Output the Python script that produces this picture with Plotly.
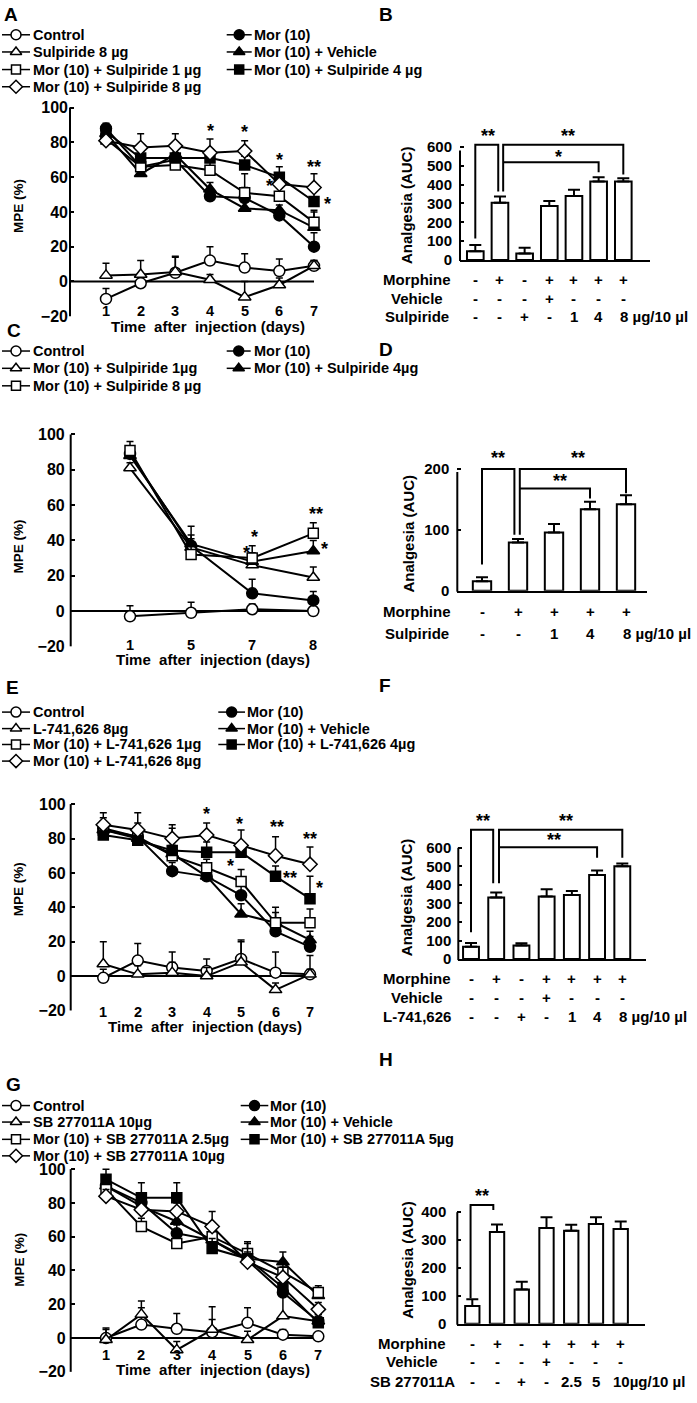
import plotly.graph_objects as go

W, H = 697, 1403
FAM = "Liberation Sans, Arial, Helvetica, sans-serif"

# ======================= DATA =======================
# ---- Panel A (Sulpiride, days 1-7) ----
A_days = ["1", "2", "3", "4", "5", "6", "7"]
A_control = [-10, -1, 5, 12, 8, 6, 9]
A_control_err = [6, 5, 9, 8, 8, 7, 3]
A_sulp8 = [3.5, 4, 5.5, 1, -9, -2, 9]
A_sulp8_err = [7, 8, 9, 3, 9, 4, 3]
A_mor = [88, 66, 70, 49, 48, 38, 20]
A_mor_err = [3, 4, 4, 4, 6, 3, 8]
A_veh = [85, 62, 73, 53, 42, 41, 31]
A_veh_err = [3, 4, 5, 4, 5, 3, 10]
A_s1 = [82, 66, 67, 64, 51, 49, 34]
A_s1_err = [3, 5, 4, 9, 11, 5, 6]
A_s4 = [86, 71, 71, 71, 67, 60, 46]
A_s4_err = [3, 4, 6, 5, 5, 6, 6]
A_s8 = [81, 77, 78, 74, 75, 56, 54]
A_s8_err = [3, 8, 7, 8, 6, 5, 8]
A_names = ["Control", "Sulpiride 8 µg", "Mor (10) + Sulpiride 1 µg", "Mor (10) + Sulpiride 8 µg",
           "Mor (10)", "Mor (10) + Vehicle", "Mor (10) + Sulpiride 4 µg"]
A_stars = [(3, 89, "*"), (4, 88, "*"), (5, 72, "*"), (4.73, 57.5, "*"), (6, 68, "**"), (6.4, 46.6, "*")]

# ---- Panel B (AUC, sulpiride) ----
B_vals = [47, 304, 35, 286, 339, 416, 416]
B_errs = [32, 33, 30, 26, 33, 23, 17]
B_row_names = ["Morphine", "Vehicle", "Sulpiride"]
B_rows = [["-", "+", "-", "+", "+", "+", "+"],
          ["-", "-", "-", "+", "-", "-", "-"],
          ["-", "-", "+", "-", "1", "4", "8 µg/10 µl"]]
B_brackets = [(0, 114, 0.93, 363, 610), (1.13, 363, 6, 453, 610), (1.13, 518, 5, 465, 518)]
B_stars = [(0.53, 676, "**"), (3.77, 676, "**"), (3.39, 567, "*")]

# ---- Panel C (Sulpiride, days 1,5,7,8) ----
C_days = ["1", "5", "7", "8"]
C_control = [-3, -1, 1, 0]
C_control_err = [6, 6, 3, 0]
C_s1 = [81, 36, 26, 19]
C_s1_err = [3, 5, 4, 6]
C_s8 = [91, 32, 30, 44]
C_s8_err = [5, 6, 7, 6]
C_mor = [89, 37, 10, 6]
C_mor_err = [4, 6, 8, 5]
C_s4 = [88, 38, 28, 34]
C_s4_err = [4, 10, 5, 6]
C_names = ["Control", "Mor (10) + Sulpiride 1µg", "Mor (10) + Sulpiride 8 µg",
           "Mor (10)", "Mor (10) + Sulpiride 4µg"]
C_stars = [(2.03, 44, "*"), (1.91, 35, "*"), (3.04, 57, "**"), (3.18, 37.5, "*")]

# ---- Panel D (AUC, sulpiride) ----
D_vals = [15.5, 79, 95.5, 134, 142]
D_errs = [6.5, 6, 14, 12, 15]
D_row_names = ["Morphine", "Sulpiride"]
D_rows = [["-", "+", "+", "+", "+"],
          ["-", "-", "1", "4", "8 µg/10 µl"]]
D_brackets = [(0, 43, 0.9, 92, 200), (1.05, 92, 4, 160, 200), (1.05, 168, 3, 151.5, 168)]
D_stars = [(0.45, 225, "**"), (2.67, 225, "**"), (2.17, 187, "**")]

# ---- Panel E (L-741,626) ----
E_days = ["1", "2", "3", "4", "5", "6", "7"]
E_control = [-1, 9, 5, 3, 10, 2, 1]
E_control_err = [5, 10, 9, 7, 11, 12, 11]
E_l8 = [7, 1, 2, 0, 8, -8, 1]
E_l8_err = [13, 5, 6, 5, 12, 4, 3]
E_mor = [86, 81, 61, 58, 47, 26, 17]
E_mor_err = [4, 5, 5, 4, 6, 5, 6]
E_veh = [85, 80, 71, 58, 36, 31, 21]
E_veh_err = [4, 5, 5, 4, 6, 6, 5]
E_m1 = [85, 81, 70, 63, 55, 31, 31]
E_m1_err = [4, 5, 6, 5, 7, 9, 8]
E_m4 = [82, 79, 73, 72, 72, 58, 45]
E_m4_err = [13, 10, 15, 6, 5, 6, 13]
E_m8 = [88, 85, 80, 82, 76, 70, 65]
E_m8_err = [4, 10, 6, 7, 9, 11, 10]
E_names = ["Control", "L-741,626 8µg", "Mor (10) + L-741,626 1µg", "Mor (10) + L-741,626 8µg",
           "Mor (10)", "Mor (10) + Vehicle", "Mor (10) + L-741,626 4µg"]
E_stars = [(3.0, 96.7, "*"), (3.94, 91, "*"), (5.05, 89, "**"), (6.0, 81.9, "**"),
           (3.68, 66.3, "*"), (5.42, 59.6, "**"), (6.29, 53.4, "*")]

# ---- Panel F (AUC, L-741,626) ----
F_vals = [67, 332, 73, 337, 346, 453, 501]
F_errs = [20, 27, 13, 40, 21, 25, 15]
F_row_names = ["Morphine", "Vehicle", "L-741,626"]
F_rows = [["-", "+", "-", "+", "+", "+", "+"],
          ["-", "-", "-", "+", "-", "-", "-"],
          ["-", "-", "+", "-", "1", "4", "8 µg/10 µl"]]
F_brackets = [(0, 145, 0.88, 409, 698), (1.11, 409, 6, 546, 698), (1.11, 603, 5, 546, 603)]
F_stars = [(0.49, 766, "**"), (3.76, 766, "**"), (3.31, 662, "**")]

# ---- Panel G (SB 277011A) ----
G_days = ["1", "2", "3", "4", "5", "6", "7"]
G_control = [0, 8, 5.5, 3.5, 9, 2, 1]
G_control_err = [6, 10, 9, 15, 9, 3, 2]
G_sb10 = [-1, 14, -7, 5, -1, 13, 10]
G_sb10_err = [6, 8, 5, 6, 5, 22, 4]
G_mor = [90, 80, 62, 58, 46, 27, 10]
G_mor_err = [4, 5, 5, 4, 5, 6, 4]
G_veh = [90, 78, 69, 58, 47, 45, 25]
G_veh_err = [4, 5, 5, 4, 5, 6, 4]
G_m25 = [88, 66, 56, 60, 50, 39, 27]
G_m25_err = [4, 5, 5, 5, 6, 6, 4]
G_m5 = [94, 83, 83, 53, 47, 30, 9]
G_m5_err = [6, 9, 9, 6, 10, 6, 3]
G_m10 = [84, 76, 75, 66, 45, 36, 17]
G_m10_err = [4, 5, 5, 9, 6, 6, 4]
G_names = ["Control", "SB 277011A 10µg", "Mor (10) + SB 277011A 2.5µg", "Mor (10) + SB 277011A 10µg",
           "Mor (10)", "Mor (10) + Vehicle", "Mor (10) + SB 277011A 5µg"]
G_stars = []

# ---- Panel H (AUC, SB 277011A) ----
H_vals = [64, 329, 123, 343, 333, 358, 340]
H_errs = [24, 27, 28, 39, 22, 24, 27]
H_row_names = ["Morphine", "Vehicle", "SB 277011A"]
H_rows = [["-", "+", "-", "+", "+", "+", "+"],
          ["-", "-", "-", "+", "-", "-", "-"],
          ["-", "-", "+", "-", "2.5", "5", "10µg/10 µl"]]
H_brackets = [(-0.07, 91, 0.85, 408, 426)]
H_stars = [(0.38, 471, "**")]

MPE_TICKS = [-20, 0, 20, 40, 60, 80, 100]
X_TITLE = "Time\u00a0\u00a0after\u00a0\u00a0injection (days)"

# ======================= STYLE / GEOMETRY =======================
def F(size):
    return dict(family=FAM, size=size, color="black", weight="bold")

SYM = {
    "oc": ("circle", "white", 11),
    "fc": ("circle", "black", 11),
    "ot": ("triangle-up", "white", 11),
    "ft": ("triangle-up", "black", 11),
    "os": ("square", "white", 10),
    "fs": ("square", "black", 10),
    "od": ("diamond", "white", 11),
}

def lin(p0, v0, p1, v1):
    s = (p1 - p0) / (v1 - v0)
    return (lambda v: p0 + (v - v0) * s), (lambda p: v0 + (p - p0) / s)

def px(x):
    return x / W

def py(y):
    return 1 - y / H

fig = go.Figure()
layout = dict(width=W, height=H, margin=dict(l=0, r=0, t=0, b=0),
              paper_bgcolor="white", plot_bgcolor="rgba(0,0,0,0)",
              font=F(14), showlegend=False)
shapes, annots = [], []

# overlay axis in pixel space for legend keys
layout["xaxis9"] = dict(domain=[0, 1], range=[0, W], visible=False, anchor="y9", fixedrange=True)
layout["yaxis9"] = dict(domain=[0, 1], range=[H, 0], visible=False, anchor="x9", fixedrange=True)

def axid(n):
    return ("x" if n == 1 else f"x{n}"), ("y" if n == 1 else f"y{n}")

def note(text, x, y, xref="paper", yref="paper", size=15, xa="center", ya="middle", **kw):
    d = dict(text=text, x=x, y=y, xref=xref, yref=yref, showarrow=False, font=F(size),
             xanchor=xa, yanchor=ya, borderpad=0)
    d.update(kw)
    annots.append(d)

def add_star(xa, ya, x, y, t, size=18):
    note(t, x, y, xref=xa, yref=ya, size=size, yshift=-4)

def line_panel(n, g, days, series, stars):
    xa, ya = axid(n)
    npts = len(days)
    _, vx = lin(g["c0"], 0, g["c1"], npts - 1)
    pyy, _ = lin(g["ylo"], -20, g["yhi"], 100)
    yext = 108
    layout[f"xaxis{n}"] = dict(domain=[px(g["xl"]), px(g["xr"])], range=[vx(g["xl"]), vx(g["xr"])],
                               visible=False, anchor=ya, fixedrange=True)
    layout[f"yaxis{n}"] = dict(domain=[py(g["ylo"]), py(pyy(yext))], range=[-20, yext], anchor=xa,
                               showline=False, showgrid=False, zeroline=False,
                               ticks="inside", ticklen=4, tickwidth=2, tickcolor="black",
                               tickvals=MPE_TICKS, tickfont=F(16),
                               ticklabelstandoff=g["stand"], fixedrange=True)
    shapes.append(dict(type="line", xref="paper", yref="paper", x0=px(g["xl"]), x1=px(g["xl"]),
                       y0=py(pyy(-20)), y1=py(pyy(100)), line=dict(color="black", width=2)))
    shapes.append(dict(type="line", xref=xa, yref=ya, x0=vx(g["xl"]), x1=npts - 1, y0=0, y1=0,
                       line=dict(color="black", width=2), layer="below"))
    xs = list(range(npts))
    for name, sty, vals, errs, col, row in series:
        sym, fill, size = SYM[sty]
        fig.add_trace(go.Scatter(
            x=xs, y=vals, xaxis=xa, yaxis=ya, mode="lines+markers",
            line=dict(color="black", width=2),
            marker=dict(symbol=sym, color=fill, size=size, line=dict(color="black", width=1.5)),
            error_y=dict(type="data", symmetric=False, array=errs, arrayminus=[0] * npts,
                         color="black", thickness=1.5, width=3.5),
            cliponaxis=False, hoverinfo="skip"))
        # legend key
        kx0, kx1, tx = g["leg_cols"][col]
        ky = g["leg_rows"][row]
        fig.add_trace(go.Scatter(x=[kx0, kx1], y=[ky, ky], xaxis="x9", yaxis="y9", mode="lines",
                                 line=dict(color="black", width=1.5), hoverinfo="skip"))
        fig.add_trace(go.Scatter(x=[(kx0 + kx1) / 2], y=[ky], xaxis="x9", yaxis="y9", mode="markers",
                                 marker=dict(symbol=sym, color=fill, size=size - 1,
                                             line=dict(color="black", width=1.5)),
                                 cliponaxis=False, hoverinfo="skip"))
        note(name, px(tx), py(ky), size=14.5, xa="left")
    for i, d in enumerate(days):
        note(d, i, py(g["tick_py"]), xref=xa, size=14.5)
    note(X_TITLE, px(g["title_px"]), py(g["title_py"]), size=15)
    note("MPE (%)", px(g["ylab"][0]), py(g["ylab"][1]), size=13.5, textangle=-90)
    for x, y, t in stars:
        add_star(xa, ya, x, y, t)

def bar_panel(n, g, vals, errs, row_names, rows, brackets, stars):
    xa, ya = axid(n)
    nb = len(vals)
    _, vx = lin(g["c0"], 0, g["c1"], nb - 1)
    pyy, _ = lin(g["y0"], 0, g["y1"], g["ymax"])
    yext = g["yext"]
    layout[f"xaxis{n}"] = dict(domain=[px(g["xl"]), px(g["xr"])], range=[vx(g["xl"]), vx(g["xr"])],
                               showline=True, linewidth=2, linecolor="black", ticks="",
                               showticklabels=False, showgrid=False, zeroline=False,
                               anchor=ya, fixedrange=True)
    layout[f"yaxis{n}"] = dict(domain=[py(g["y0"]), py(pyy(yext))], range=[0, yext], anchor=xa,
                               showline=False, showgrid=False, zeroline=False,
                               ticks="inside", ticklen=4, tickwidth=2, tickcolor="black",
                               tickvals=g["ticks"], tickfont=F(15),
                               ticklabelstandoff=g["stand"], fixedrange=True)
    shapes.append(dict(type="line", xref="paper", yref="paper", x0=px(g["xl"]), x1=px(g["xl"]),
                       y0=py(g["y0"] + 1), y1=py(pyy(g["axtop"])), line=dict(color="black", width=2)))
    fig.add_trace(go.Bar(x=list(range(nb)), y=vals, xaxis=xa, yaxis=ya, width=g["bw"],
                         marker=dict(color="white", line=dict(color="black", width=2)),
                         error_y=dict(type="data", symmetric=False, array=errs, arrayminus=[0] * nb,
                                      color="black", thickness=2, width=6),
                         hoverinfo="skip"))
    for xa_, ya_, xb_, yb_, yt in brackets:
        fig.add_trace(go.Scatter(x=[xa_, xa_, xb_, xb_], y=[ya_, yt, yt, yb_], xaxis=xa, yaxis=ya,
                                 mode="lines", line=dict(color="black", width=2), hoverinfo="skip"))
    for x, y, t in stars:
        add_star(xa, ya, x, y, t)
    note("Analgesia (AUC)", px(g["ylab"][0]), py(g["ylab"][1]), size=15, textangle=-90)
    for name, entries, ry in zip(row_names, rows, g["rows_py"]):
        note(name, px(g["row_cx"]), py(ry), size=15)
        for i, e in enumerate(entries):
            if "µg" in e:
                lead = e.split("µ")[0].strip()
                note(e, i, py(ry), xref=xa, size=15, xa="left",
                     xshift=-len(lead) * 0.556 * 15 / 2)
            else:
                note(e, i, py(ry), xref=xa, size=15)

# ---------------- line panels ----------------
COL1 = (2, 30, 32)
line_panel(1, dict(xl=70, xr=330, c0=106, c1=314, ylo=318.3, yhi=108.3, stand=1,
                   tick_py=313.3, title_py=328.3, title_px=208, ylab=(18.3, 207),
                   leg_cols=[COL1, (226.7, 251.7, 253.3)], leg_rows=[35, 52.3, 70, 87.3]),
           A_days,
           [(A_names[0], "oc", A_control, A_control_err, 0, 0),
            (A_names[1], "ot", A_sulp8, A_sulp8_err, 0, 1),
            (A_names[4], "fc", A_mor, A_mor_err, 1, 0),
            (A_names[5], "ft", A_veh, A_veh_err, 1, 1),
            (A_names[2], "os", A_s1, A_s1_err, 0, 2),
            (A_names[6], "fs", A_s4, A_s4_err, 1, 2),
            (A_names[3], "od", A_s8, A_s8_err, 0, 3)],
           A_stars)

line_panel(3, dict(xl=70.7, xr=330, c0=130, c1=313.3, ylo=650.5, yhi=437.3, stand=5,
                   tick_py=649.3, title_py=663.3, title_px=213, ylab=(18, 550),
                   leg_cols=[COL1, (226.7, 250.7, 253)], leg_rows=[353.3, 370.7, 388.3]),
           C_days,
           [(C_names[0], "oc", C_control, C_control_err, 0, 0),
            (C_names[3], "fc", C_mor, C_mor_err, 1, 0),
            (C_names[1], "ot", C_s1, C_s1_err, 0, 1),
            (C_names[4], "ft", C_s4, C_s4_err, 1, 1),
            (C_names[2], "os", C_s8, C_s8_err, 0, 2)],
           C_stars)

line_panel(5, dict(xl=70.7, xr=330, c0=103.3, c1=310, ylo=1017, yhi=809.3, stand=4,
                   tick_py=1018.3, title_py=1032.7, title_px=205, ylab=(18, 895),
                   leg_cols=[COL1, (218.3, 245, 246)], leg_rows=[716.7, 733.3, 749.3, 766]),
           E_days,
           [(E_names[0], "oc", E_control, E_control_err, 0, 0),
            (E_names[1], "ot", E_l8, E_l8_err, 0, 1),
            (E_names[4], "fc", E_mor, E_mor_err, 1, 0),
            (E_names[5], "ft", E_veh, E_veh_err, 1, 1),
            (E_names[2], "os", E_m1, E_m1_err, 0, 2),
            (E_names[6], "fs", E_m4, E_m4_err, 1, 2),
            (E_names[3], "od", E_m8, E_m8_err, 0, 3)],
           E_stars)

line_panel(7, dict(xl=70.7, xr=335, c0=106, c1=318.3, ylo=1380.7, yhi=1176.7, stand=4,
                   tick_py=1363.3, title_py=1378.3, title_px=213, ylab=(20, 1268),
                   leg_cols=[COL1, (240.7, 268.3, 269.3)], leg_rows=[1112.7, 1129.3, 1146.7, 1163.3]),
           G_days,
           [(G_names[0], "oc", G_control, G_control_err, 0, 0),
            (G_names[1], "ot", G_sb10, G_sb10_err, 0, 1),
            (G_names[4], "fc", G_mor, G_mor_err, 1, 0),
            (G_names[5], "ft", G_veh, G_veh_err, 1, 1),
            (G_names[2], "os", G_m25, G_m25_err, 0, 2),
            (G_names[6], "fs", G_m5, G_m5_err, 1, 2),
            (G_names[3], "od", G_m10, G_m10_err, 0, 3)],
           G_stars)

# ---------------- bar panels ----------------
bar_panel(2, dict(xl=460, xr=650, c0=475.3, c1=623.3, y0=261.7, y1=147.7, ymax=600, yext=700,
                  axtop=580, bw=0.675, ticks=[0, 100, 200, 300, 400, 500, 600], stand=7,
                  ylab=(406.7, 206.7), rows_py=[281.7, 300, 319], row_cx=417),
          B_vals, B_errs, B_row_names, B_rows, B_brackets, B_stars)

bar_panel(4, dict(xl=457.3, xr=646.7, c0=482, c1=626, y0=594.5, y1=472, ymax=200, yext=240,
                  axtop=195, bw=0.51, ticks=[0, 100, 200], stand=7,
                  ylab=(408.3, 536.7), rows_py=[615, 637.3], row_cx=417),
          D_vals, D_errs, D_row_names, D_rows, D_brackets, D_stars)

bar_panel(6, dict(xl=458.3, xr=646, c0=471, c1=622.3, y0=965.3, y1=853.3, ymax=600, yext=800,
                  axtop=600, bw=0.63, ticks=[0, 100, 200, 300, 400, 500, 600], stand=6,
                  ylab=(406.7, 903.3), rows_py=[985, 1004, 1023.3], row_cx=417),
          F_vals, F_errs, F_row_names, F_rows, F_brackets, F_stars)

bar_panel(8, dict(xl=457.3, xr=645, c0=472.3, c1=620.7, y0=1332.3, y1=1220, ymax=400, yext=500,
                  axtop=400, bw=0.58, ticks=[0, 100, 200, 300, 400], stand=10,
                  ylab=(406.7, 1268.3), rows_py=[1351.7, 1370.7, 1390], row_cx=412),
          H_vals, H_errs, H_row_names, H_rows, H_brackets, H_stars)

# ---------------- panel letters ----------------
for letter, x, y in [("A", 3, 15), ("B", 378, 15), ("C", 6, 333), ("D", 378, 352),
                     ("E", 5, 692), ("F", 378, 690), ("G", 5, 1091), ("H", 378, 1066)]:
    note(letter, px(x), py(y), size=19, xa="left")

for tr in fig.data:
    tr.showlegend = False

layout["shapes"] = shapes
layout["annotations"] = annots
fig.update_layout(**layout)
fig.write_html("out.html", config={"displayModeBar": False, "staticPlot": True},
               post_script="document.body.style.margin='0';document.body.style.padding='0';"
                           "document.documentElement.style.overflow='hidden';")
